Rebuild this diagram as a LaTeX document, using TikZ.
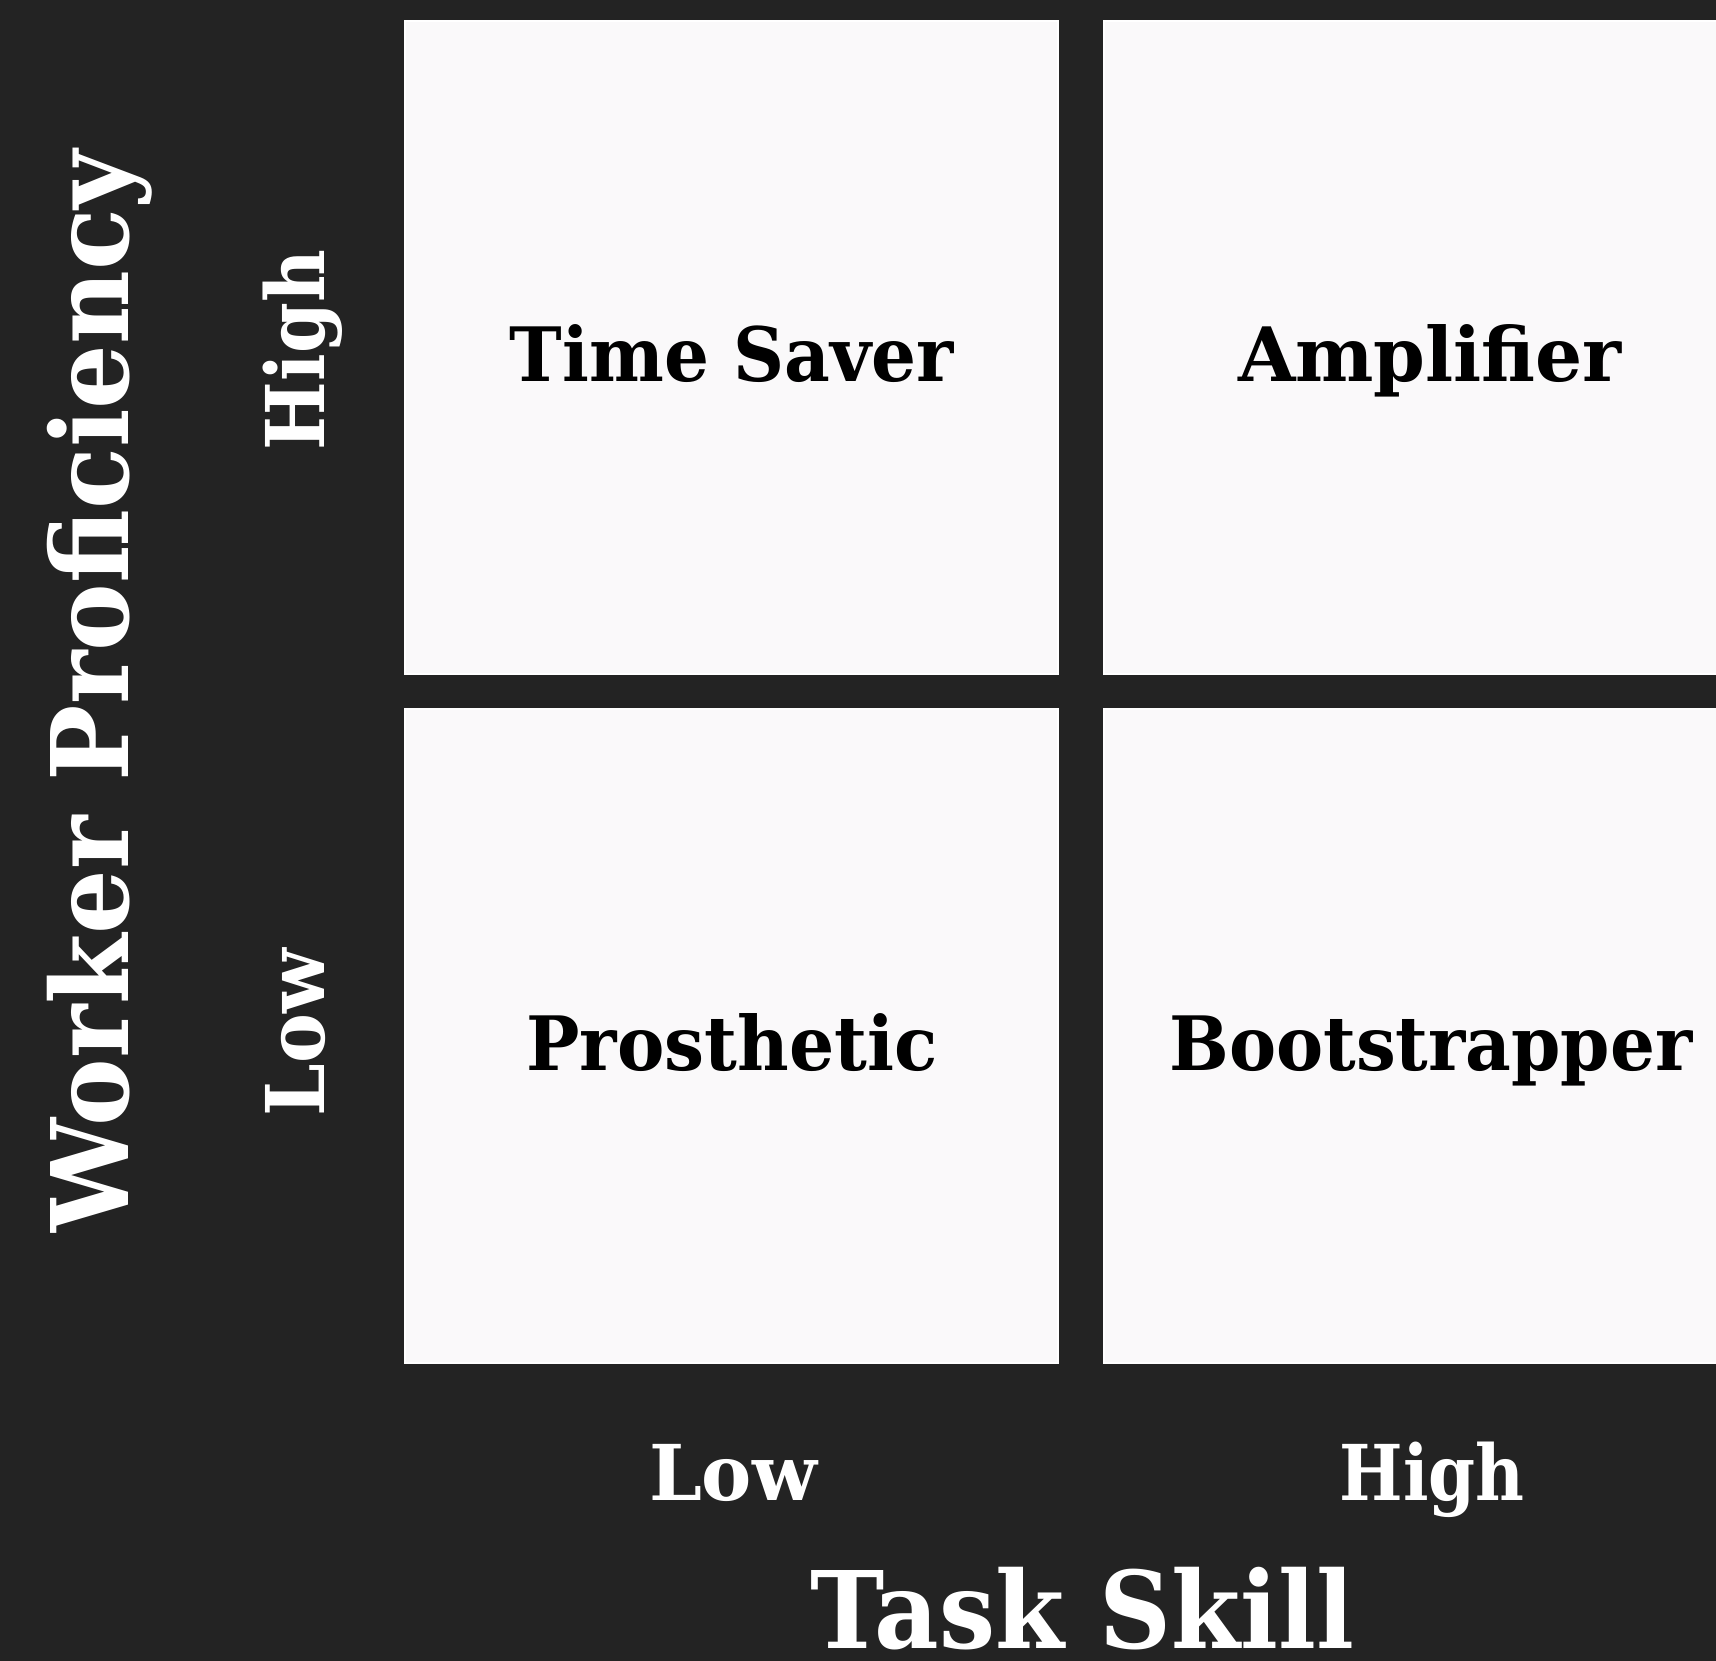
\documentclass[tikz,border=0pt]{standalone}
\usepackage{fontspec}
\usepackage{graphicx}
\setmainfont{DejaVu Serif}

\definecolor{fondo}{RGB}{35,35,35}
\definecolor{papel}{RGB}{250,249,250}

% ajusta el ancho y conserva la altura
\newcommand{\ancho}[2]{\resizebox{#1}{\height}{#2}}

\tikzset{
  cuadro/.style={draw=white, line width=2pt, fill=papel},
  etiq/.style={font=\bfseries\fontsize{75}{80}\selectfont, text=black, inner sep=0pt, anchor=base},
  eje/.style={font=\bfseries\fontsize{77}{82}\selectfont, text=white, inner sep=0pt, anchor=base},
  titulo/.style={font=\bfseries\fontsize{107}{112}\selectfont, text=white, inner sep=0pt, anchor=base},
}

\begin{document}
\begin{tikzpicture}[x=1pt, y=-1pt]
    % fondo
    \fill[fondo] (0,0) rectangle (1716,1661);
    \useasboundingbox (0,0) rectangle (1716,1661);

    % cuadrantes
    \draw[cuadro] (405,21) rectangle (1058,674);
    \draw[cuadro] (1104,21) rectangle (1757,674);
    \draw[cuadro] (405,709) rectangle (1058,1363);
    \draw[cuadro] (1104,709) rectangle (1757,1363);

    % nombres de los cuadrantes
    \node[etiq] (ahorro) at (732,382) {\ancho{444pt}{Time Saver}};
    \node[etiq] (amplif) at (1430,382) {\ancho{384pt}{Amplifier}};
    \node[etiq] (protesis) at (732,1070) {\ancho{411pt}{Prosthetic}};
    \node[etiq] (arranque) at (1431,1070) {\ancho{523pt}{Bootstrapper}};

    % niveles
    \node[eje] (tareabaja) at (733,1500) {\ancho{168pt}{Low}};
    \node[eje] (tareaalta) at (1432,1500) {\ancho{185pt}{High}};
    \node[eje, rotate=90, font=\bfseries\fontsize{81}{86}\selectfont] (trabalta) at (324,350) {\ancho{200pt}{High}};
    \node[eje, rotate=90, font=\bfseries\fontsize{81}{86}\selectfont] (trabbaja) at (324,1033) {\ancho{167pt}{Low}};

    % ejes
    \node[titulo] (tarea) at (1082,1648) {\ancho{544pt}{Task Skill}};
    \node[titulo, rotate=90] (trabajador) at (128,691) {\ancho{1082pt}{Worker Proficiency}};
\end{tikzpicture}
\end{document}
